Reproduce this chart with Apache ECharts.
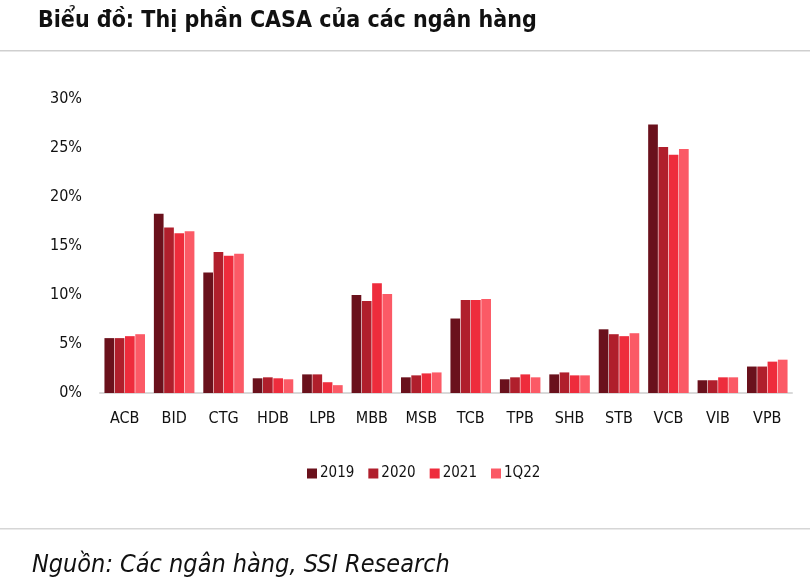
<!DOCTYPE html>
<html>
<head>
<meta charset="utf-8">
<script src="https://cdn.jsdelivr.net/npm/echarts@6/dist/echarts.min.js"></script>
<style>
  html, body { margin: 0; padding: 0; background: #fff; }
  #chart { width: 810px; height: 586px; }
</style>
</head>
<body>
<div id="chart"></div>
<script>
const banks = ['ACB', 'BID', 'CTG', 'HDB', 'LPB', 'MBB', 'MSB', 'TCB', 'TPB', 'SHB', 'STB', 'VCB', 'VIB', 'VPB'];
const y2019 = [5.6, 18.3, 12.3, 1.5, 1.9, 10.0, 1.6, 7.6, 1.4, 1.9, 6.5, 27.4, 1.3, 2.7];
const y2020 = [5.6, 16.9, 14.4, 1.6, 1.9, 9.4, 1.8, 9.5, 1.6, 2.1, 6.0, 25.1, 1.3, 2.7];
const y2021 = [5.8, 16.3, 14.0, 1.5, 1.1, 11.2, 2.0, 9.5, 1.9, 1.8, 5.8, 24.3, 1.6, 3.2];
const q122 = [6.0, 16.5, 14.2, 1.4, 0.8, 10.1, 2.1, 9.6, 1.6, 1.8, 6.1, 24.9, 1.6, 3.4];
const seriesNames = ['2019', '2020', '2021', '1Q22'];
const colors = ['#6a111c', '#b01f2c', '#ee2c3c', '#fb5a66'];

const font = '"Liberation Sans Narrow", "DejaVu Sans Condensed", "Liberation Sans", Arial, sans-serif';
const chart = echarts.init(document.getElementById('chart'));

const seriesData = [y2019, y2020, y2021, q122];

const option = {
  color: colors,
  title: {
    text: 'Biểu đồ: Thị phần CASA của các ngân hàng',
    left: 33,
    top: 5,
    textStyle: {
      fontFamily: font,
      fontSize: 23,
      fontWeight: 'bold',
      color: '#111'
    }
  },
  legend: {
    bottom: 100,
    left: 302,
    itemWidth: 10,
    itemHeight: 10,
    itemGap: 14,
    icon: 'rect',
    textStyle: {
      fontFamily: font,
      fontSize: 15,
      color: '#111',
      padding: [0, 0, 0, -2]
    },
    data: seriesNames
  },
  grid: {
    left: 100,
    right: 18,
    top: 99,
    bottom: 193
  },
  xAxis: {
    type: 'category',
    data: banks,
    axisTick: { show: false },
    axisLine: { lineStyle: { color: '#d9d9d9', width: 2 } },
    axisLabel: {
      fontFamily: font,
      fontSize: 16,
      color: '#111',
      margin: 18
    }
  },
  yAxis: {
    type: 'value',
    min: 0,
    max: 30,
    interval: 5,
    splitLine: { show: false },
    axisLine: { show: false },
    axisTick: { show: false },
    axisLabel: {
      fontFamily: font,
      fontSize: 16,
      color: '#111',
      margin: 18,
      formatter: '{value}%'
    }
  },
  graphic: [
    {
      type: 'rect',
      shape: { x: 0, y: 50, width: 810, height: 1.5 },
      style: { fill: '#cfcfcf' },
      silent: true
    },
    {
      type: 'rect',
      shape: { x: 0, y: 528, width: 810, height: 1.5 },
      style: { fill: '#d6d6d6' },
      silent: true
    },
    {
      type: 'text',
      left: 32,
      top: 553,
      style: {
        text: 'Nguồn: Các ngân hàng, SSI Research',
        fontFamily: font,
        fontSize: 25,
        fontStyle: 'italic',
        fill: '#111'
      }
    }
  ],
  series: seriesNames.map(function (name, i) {
    return {
      name: name,
      type: 'bar',
      data: seriesData[i],
      barGap: '6%',
      barCategoryGap: '18%',
      itemStyle: { color: colors[i] },
      emphasis: { disabled: true }
    };
  })
};

chart.setOption(option);
</script>
</body>
</html>
